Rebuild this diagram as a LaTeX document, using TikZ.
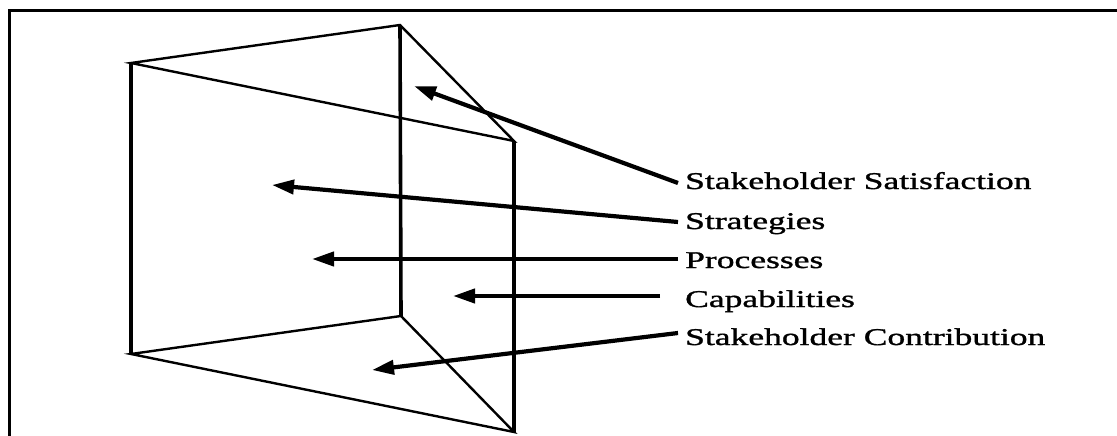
\documentclass[tikz,border=0pt]{standalone}
\usepackage{fontspec}
\setmainfont[FakeStretch=1.48,FakeBold=1.3]{Liberation Serif}
\usetikzlibrary{arrows.meta}
\begin{document}
\begin{tikzpicture}[x=1pt,y=-1pt,
    framepen/.style={line width=3pt},
    slant/.style={line width=2.4pt, line join=miter},
    upright/.style={line width=3.6pt},
    pointer/.style={line width=4.2pt, -{Triangle[length=22pt,width=14pt]}},
    itemtext/.style={inner sep=0pt, anchor=base west, font=\fontsize{24}{28}\selectfont}]
  \useasboundingbox (0,0) rectangle (1117,436);

  % outer frame (top and left sides)
  \draw[framepen] (9,437) -- (9,11) -- (1118,11);

  % corners of the prism
  \coordinate (A) at (131,63);
  \coordinate (B) at (400,25);
  \coordinate (C) at (514,141);
  \coordinate (D) at (131,354);
  \coordinate (F) at (401,316);
  \coordinate (E) at (514,432);

  % top and bottom faces
  \draw[slant] (A) -- (B) -- (C) -- cycle;
  \draw[slant] (D) -- (F) -- (E) -- cycle;
  % vertical edges
  \draw[upright] (A) -- (D);
  \draw[upright] (B) -- (F);
  \draw[upright] (C) -- (E);

  % labels
  \node[itemtext] (sat) at (685,189) {Stakeholder Satisfaction};
  \node[itemtext] (str) at (685,229) {Strategies};
  \node[itemtext] (pro) at (685,268) {Processes};
  \node[itemtext] (cap) at (685,307) {Capabilities};
  \node[itemtext] (con) at (685,345) {Stakeholder Contribution};

  % arrow targets
  \coordinate (satT) at (414,86);
  \coordinate (strT) at (272,185);
  \coordinate (proT) at (312,259);
  \coordinate (capT) at (453,296);
  \coordinate (conT) at (372,370);

  % pointers from the labels into the prism
  \draw[pointer] ([shift={(-7pt,6pt)}]sat.base west) -- (satT);
  \draw[pointer] ([shift={(-7pt,7pt)}]str.base west) -- (strT);
  \draw[pointer] ([shift={(-7pt,9pt)}]pro.base west) -- (proT);
  \draw[pointer] ([shift={(-25pt,11pt)}]cap.base west) -- (capT);
  \draw[pointer] ([shift={(-7pt,12pt)}]con.base west) -- (conT);
\end{tikzpicture}
\end{document}
